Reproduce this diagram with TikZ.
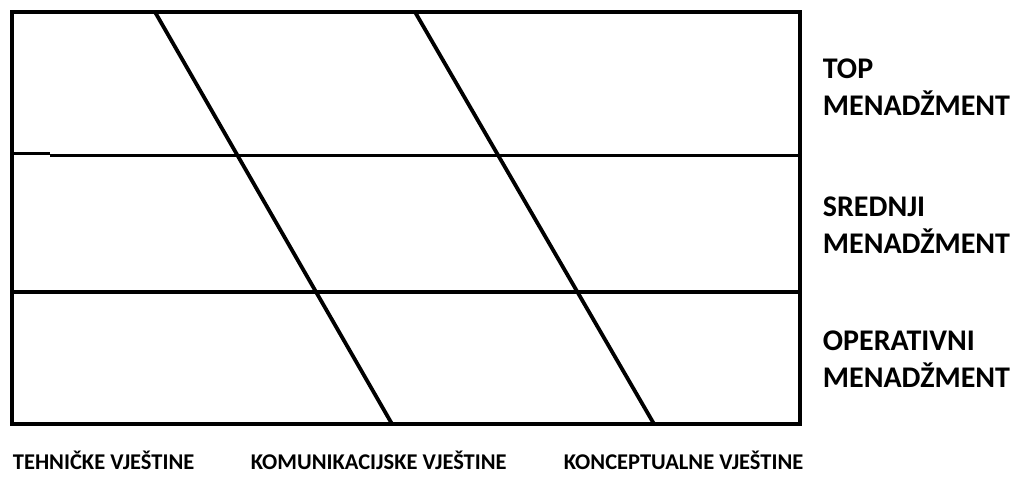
\documentclass[tikz,border=0pt]{standalone}
\usepackage{fontspec}
\setmainfont{Carlito}
\begin{document}
\begin{tikzpicture}[x=1pt,y=-1pt,line width=3.8pt,
  level/.style={anchor=base west,align=left,inner sep=0pt,font=\bfseries\fontsize{30}{37}\selectfont},
  skill/.style={anchor=base west,inner sep=0pt,text depth=0pt,font=\bfseries\fontsize{22.5}{24}\selectfont}]
\useasboundingbox (0,0) rectangle (1012,477);
\coordinate (nw) at (12,12);\coordinate (se) at (800,424);
\coordinate (a1) at (155,12);\coordinate (a2) at (392,424);
\coordinate (b1) at (415,12);\coordinate (b2) at (654,424);
\draw (nw) rectangle (se);
\draw (12,153.5)--(50,153.5);
\draw (50,155.5)--(800,155.5);
\draw (12,292)--(800,292);
\draw (a1)--(a2);
\draw (b1)--(b2);
\node[level] (top) at (821,115) {TOP\\MENADŽMENT};
\node[level] (mid) at (821,253) {SREDNJI\\MENADŽMENT};
\node[level] (op) at (821,387) {OPERATIVNI\\MENADŽMENT};
\node[skill] (teh) at (11,469) {TEHNIČKE VJEŠTINE};
\node[skill] (kom) at (249,469) {KOMUNIKACIJSKE VJEŠTINE};
\node[skill] (kon) at (562,469) {KONCEPTUALNE VJEŠTINE};
\end{tikzpicture}
\end{document}
